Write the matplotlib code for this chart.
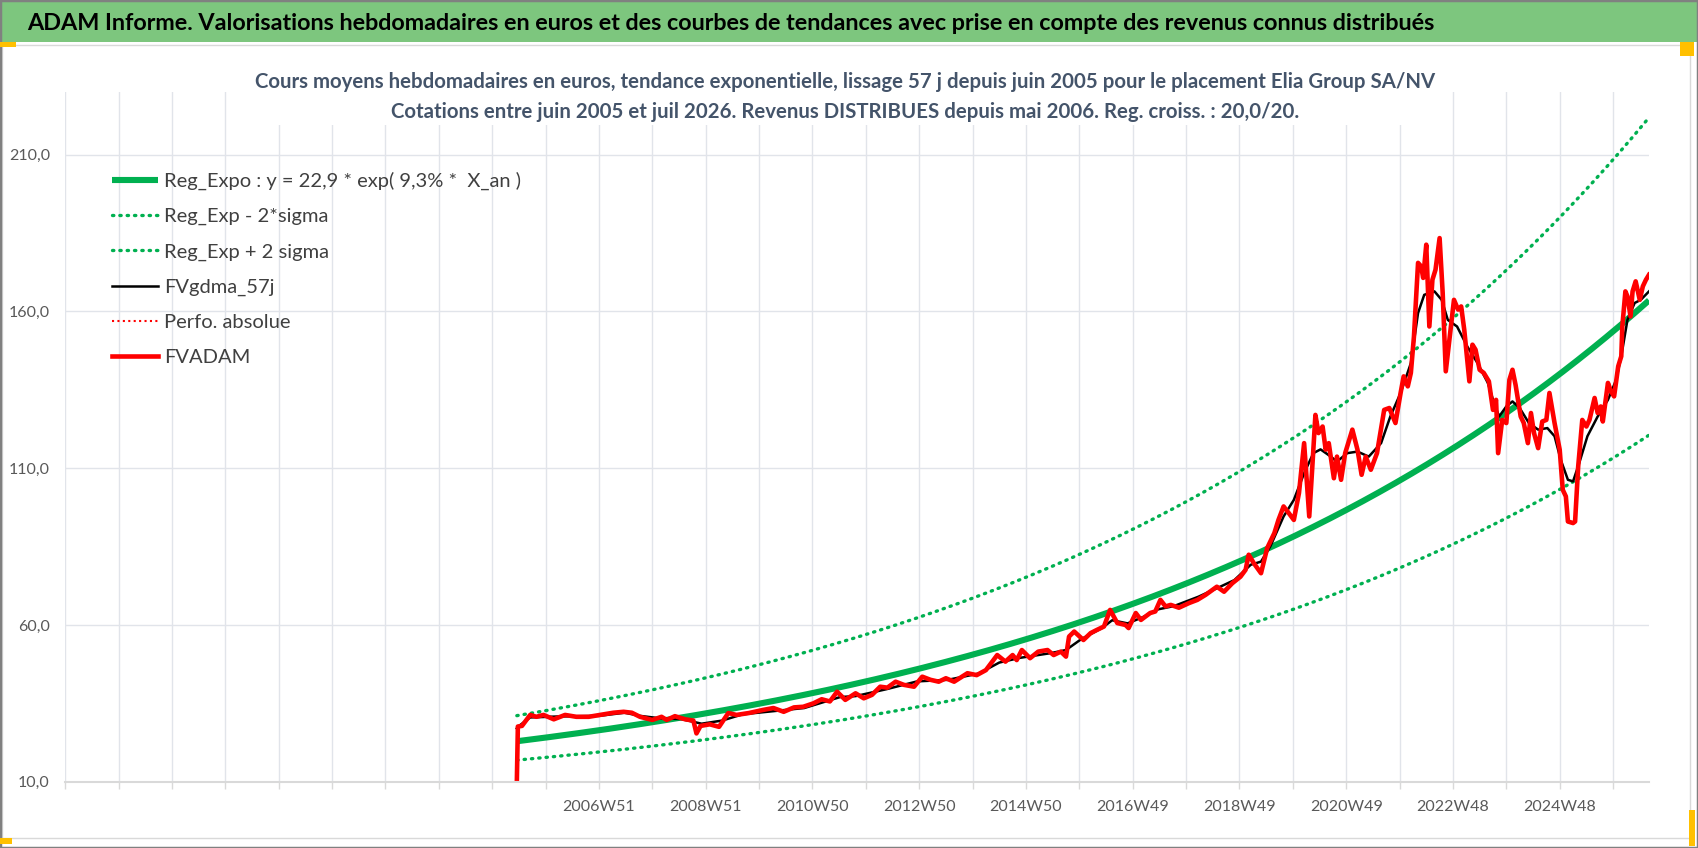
import numpy as np
import matplotlib.pyplot as plt
from matplotlib.patches import Rectangle

plt.rcParams['font.family'] = ['Lato', 'DejaVu Sans']

# --- données (index = semaine depuis le début de l'axe) ---
NB_SEMAINES = 1544
DEBUT = 440  # 2005 juin

graduations = list(range(0, NB_SEMAINES, 52))
pos_libelles = list(range(520, NB_SEMAINES, 104))
libelles = ["2006W51", "2008W51", "2010W50", "2012W50", "2014W50",
            "2016W49", "2018W49", "2020W49", "2022W48", "2024W48"]

y_ticks = [10, 60, 110, 160, 210]

# regression exponentielle (légende : y = 22,9 * exp(9,3% * X_an))
REG_A = 22.9
REG_TAUX = 0.093
DEUX_SIGMA = 0.305

sem_fvadam = [440, 441, 445, 453, 459, 466, 476, 487, 498, 510, 521, 534, 544, 552, 560,
              572, 581, 586, 594, 604, 612, 615, 619, 628, 637, 646, 654, 666, 680, 690,
              700, 710, 719, 729, 737, 745, 752, 760, 770, 778, 786, 794, 801, 809, 817,
              827, 835, 843, 851, 858, 866, 879, 888, 897, 908, 916, 923, 927, 932, 940,
              948, 957, 963, 970, 975, 978, 983, 992, 999, 1005, 1012, 1018, 1025, 1033, 1036,
              1043, 1048, 1057, 1062, 1067, 1072, 1077, 1085, 1095, 1103, 1111, 1122, 1129, 1137,
              1145, 1150, 1153, 1158, 1165, 1171, 1178, 1182, 1187, 1192, 1197, 1202, 1207, 1212,
              1215, 1218, 1221, 1225, 1228, 1231, 1236, 1239, 1243, 1247, 1254, 1259, 1263, 1267,
              1272, 1278, 1285, 1290, 1296, 1301, 1304, 1308, 1311, 1314, 1318, 1321, 1323, 1326,
              1329, 1332, 1335, 1339, 1342, 1345, 1350, 1353, 1357, 1360, 1363, 1368, 1371, 1374,
              1378, 1382, 1387, 1391, 1394, 1396, 1400, 1404, 1407, 1410, 1413, 1418, 1421, 1425,
              1428, 1431, 1435, 1439, 1443, 1446, 1451, 1456, 1459, 1462, 1464, 1469, 1471, 1474,
              1478, 1482, 1485, 1490, 1493, 1496, 1498, 1503, 1506, 1509, 1513, 1516, 1517, 1520,
              1522, 1525, 1527, 1530, 1534, 1537, 1540, 1543]
val_fvadam = [10.0, 27.6, 27.8, 31.3, 30.7, 31.3, 29.9, 31.3, 30.7, 30.7, 31.3, 32.0, 32.3, 32.0, 30.7,
              29.7, 30.7, 29.7, 30.9, 29.9, 29.5, 25.4, 27.8, 28.3, 27.5, 31.9, 31.3, 31.9, 32.9, 33.5,
              32.3, 33.7, 33.9, 35.0, 36.3, 35.6, 38.7, 36.1, 38.2, 36.6, 37.7, 40.3, 40.0, 41.9, 40.9,
              40.3, 43.5, 42.5, 41.9, 43.0, 41.9, 44.6, 44.0, 45.6, 50.4, 48.3, 50.4, 48.8, 52.0, 49.4,
              51.5, 52.0, 50.4, 51.5, 49.9, 56.3, 57.9, 55.2, 57.4, 58.4, 59.5, 64.8, 60.6, 60.0, 59.0,
              63.8, 61.6, 63.8, 64.3, 68.0, 65.9, 66.4, 65.5, 67.0, 68.0, 69.6, 72.2, 70.6, 73.3,
              75.4, 77.6, 82.4, 79.7, 76.5, 84.5, 89.3, 93.5, 97.8, 95.7, 93.5, 102.1, 118.0, 94.6,
              110.5, 127.0, 121.2, 123.3, 115.9, 118.0, 106.8, 113.7, 106.3, 114.8, 122.3, 115.9, 107.9, 113.7,
              109.5, 114.8, 128.6, 129.2, 124.4, 134.0, 139.3, 136.1, 140.4, 152.0, 175.5, 174.4, 170.7, 181.3,
              155.2, 170.1, 173.3, 183.4, 165.9, 140.9, 155.2, 163.7, 160.6, 161.6, 154.2, 137.7, 149.4, 147.8,
              141.4, 140.4, 137.7, 128.6, 131.8, 114.8, 125.4, 124.4, 138.2, 141.4, 136.6, 126.5, 124.4, 118.0,
              127.6, 121.2, 116.4, 124.9, 125.4, 134.0, 124.4, 115.9, 103.1, 101.0, 93.0, 92.5, 93.0, 110.5,
              125.4, 123.3, 125.4, 132.4, 127.6, 129.7, 124.9, 137.2, 134.5, 132.9, 142.5, 145.7, 155.2, 166.4,
              164.8, 158.4, 166.4, 169.6, 163.7, 168.0, 170.1, 171.7]

sem_gdma = [440, 443, 453, 480, 520, 545, 560, 580, 600, 620, 640, 660, 690, 720, 740,
            755, 770, 800, 830, 860, 890, 910, 930, 960, 975, 990, 1010, 1020, 1035, 1050,
            1065, 1080, 1104, 1122, 1139, 1155, 1165, 1174, 1187, 1197, 1207, 1216, 1223, 1233,
            1239, 1249, 1259, 1270, 1282, 1291, 1301, 1311, 1318, 1324, 1334, 1341, 1347, 1356,
            1366, 1376, 1386, 1392, 1397, 1404, 1410, 1417, 1426, 1435, 1444, 1451, 1457, 1464,
            1469, 1475, 1483, 1493, 1503, 1511, 1516, 1522, 1529, 1535, 1543]
val_gdma = [27.0, 28.0, 30.5, 30.8, 31.0, 32.0, 31.0, 30.2, 30.0, 28.5, 29.5, 31.5, 32.5, 33.5, 35.5,
            37.0, 37.3, 39.5, 42.0, 42.5, 44.5, 48.0, 49.5, 51.0, 52.0, 55.5, 59.0, 61.5, 60.5, 62.5,
            65.0, 66.0, 69.0, 71.7, 74.3, 79.2, 80.2, 85.0, 94.6, 99.9, 108.4, 114.8, 116.0, 113.7,
            112.1, 114.8, 115.3, 113.7, 118.0, 126.5, 134.0, 143.5, 159.5, 165.3, 166.4, 163.7, 157.3, 155.2,
            148.8, 143.5, 137.2, 130.8, 126.5, 129.7, 131.3, 129.2, 124.4, 122.3, 122.8, 120.2, 112.7, 106.3,
            105.8, 111.6, 120.2, 126.5, 131.8, 138.2, 145.7, 157.3, 162.7, 163.7, 166.4]

VERT = '#00b050'
W, H = 1698, 848

fig = plt.figure(figsize=(W / 100, H / 100), dpi=100)
ax = fig.add_axes([65.2 / W, 1 - 781.7 / H, (1649 - 65.2) / W, (781.7 - 92) / H])

# courbes de tendance
sem = np.arange(DEBUT, NB_SEMAINES)
x_an = (sem - DEBUT) / 52.18
reg = REG_A * np.exp(REG_TAUX * x_an)
ax.plot(sem, reg, color=VERT, lw=4.4, solid_capstyle='butt', label='Reg_Expo : y = 22,9 * exp( 9,3% *  X_an )')
ax.plot(sem, reg * np.exp(-DEUX_SIGMA), color=VERT, lw=2.4, ls=(0, (0.4, 1.8)), dash_capstyle='round',
        label='Reg_Exp - 2*sigma')
ax.plot(sem, reg * np.exp(DEUX_SIGMA), color=VERT, lw=2.4, ls=(0, (0.4, 1.8)), dash_capstyle='round',
        label='Reg_Exp + 2 sigma')
ax.plot(sem_gdma, val_gdma, color='black', lw=1.8, label='FVgdma_57j')
ax.plot([], [], color='red', lw=1.5, ls=(0, (1, 1.6)), label='Perfo. absolue')
ax.plot(sem_fvadam, val_fvadam, color='#ff0000', lw=3.3, solid_joinstyle='round', label='FVADAM')

ax.set_xlim(0, NB_SEMAINES - 1)
ax.set_ylim(10, 230)
ax.set_xticks(graduations)
ax.set_xticklabels([libelles[pos_libelles.index(g)] if g in pos_libelles else '' for g in graduations])
ax.set_yticks(y_ticks)
ax.set_yticklabels([f"{v:.1f}".replace('.', ',') for v in y_ticks])
ax.grid(True, color='#e1e4ea', lw=1.0)
ax.set_axisbelow(True)
for s in ['top', 'right', 'left']:
    ax.spines[s].set_visible(False)
ax.spines['bottom'].set_color('#d9d9d9')
ax.spines['bottom'].set_linewidth(1.5)
ax.tick_params(axis='x', length=5, color='#d9d9d9', width=1.0, labelsize=11.5, labelcolor='#595959', pad=8)
ax.tick_params(axis='y', length=0, labelsize=11.5, labelcolor='#595959', pad=11)

leg = ax.legend(loc='upper left', bbox_to_anchor=(111.7 / W, 1 - 171.8 / H), bbox_transform=fig.transFigure,
                frameon=False, fontsize=14.5, handlelength=2.3, handletextpad=0.3, labelspacing=0.89,
                borderpad=0, borderaxespad=0)
for t in leg.get_texts():
    t.set_color('#404040')

# bandeau titre vert
fig.patches.append(Rectangle((0, 1 - 42 / H), 1, 42 / H, transform=fig.transFigure,
                             facecolor='#7dc67e', edgecolor='none', zorder=-1))
fig.text(27 / W, 1 - 23 / H,
         "ADAM Informe. Valorisations hebdomadaires en euros et des courbes de tendances avec prise en compte des revenus connus distribués",
         fontsize=16.8, fontweight='bold', color='black', va='center', ha='left')

fig.text(845 / W, 1 - 97 / H,
         "Cours moyens hebdomadaires en euros, tendance exponentielle, lissage 57 j depuis juin 2005 pour le placement Elia Group SA/NV\n"
         "Cotations entre juin 2005 et juil 2026. Revenus DISTRIBUES depuis mai 2006. Reg. croiss. : 20,0/20.",
         fontsize=14.7, fontweight='bold', color='#44546a', ha='center', va='center', linespacing=1.65,
         bbox=dict(facecolor='white', edgecolor='none', pad=2), zorder=5)

# cadre
fig.patches.append(Rectangle((2 / W, 10 / H), 1688 / W, 1 - 55 / H, transform=fig.transFigure,
                             facecolor='none', edgecolor='#d9d9d9', lw=1.0))
fig.patches.append(Rectangle((0, 0), 1, 1, transform=fig.transFigure,
                             facecolor='none', edgecolor='#808080', lw=2.5))
for (x0, y0, w, h) in [(0, 42, 16, 5), (1680, 42, 14, 14), (0, 838, 12, 6), (1689, 810, 6, 36)]:
    fig.patches.append(Rectangle((x0 / W, 1 - (y0 + h) / H), w / W, h / H, transform=fig.transFigure,
                                 facecolor='#ffc000', edgecolor='none'))

fig.savefig('out.png', dpi=100)
